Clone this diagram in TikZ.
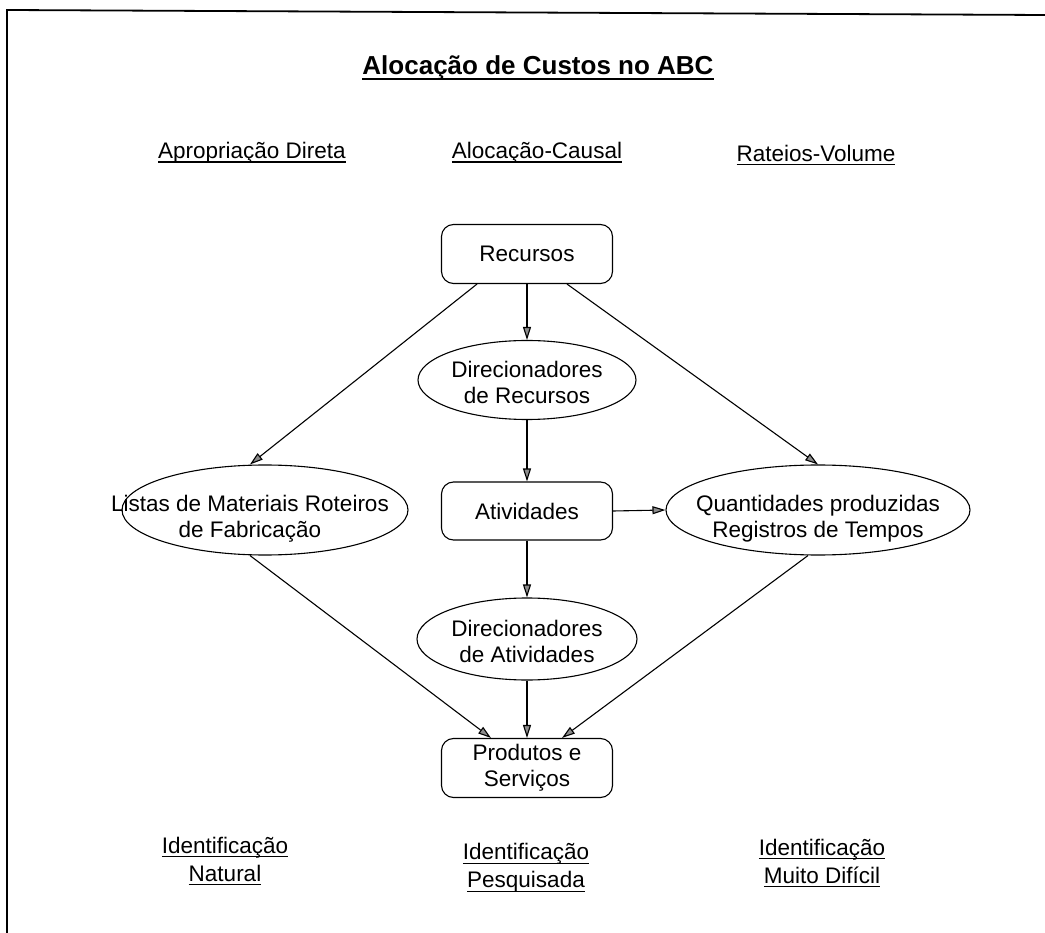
\documentclass[tikz,border=0pt]{standalone}
\usepackage{fontspec}
\setmainfont{Liberation Sans}
\usetikzlibrary{arrows.meta,calc,shapes.geometric}

% underline at a fixed depth below the baseline: {depth}{thickness}{text}
\newcommand{\ulfix}[3]{\setbox0=\hbox{#3}\rlap{\copy0}\rule[-#1]{\wd0}{#2}}
\newcommand{\ulw}[1]{\ulfix{4pt}{1.3pt}{#1}}

\begin{document}
\begin{tikzpicture}[x=1pt,y=-1pt,
  every node/.style={font=\fontsize{22.5}{26}\selectfont, align=center},
  boxnode/.style={draw, line width=1.1pt, rounded corners=12pt,
    minimum width=171pt, inner sep=0pt},
  oval/.style={draw, ellipse, line width=1.1pt, inner sep=0pt},
  ovaltext/.style={inner sep=0pt},
  heading/.style={inner sep=0pt},
  link/.style={line width=1.1pt,
    -{Triangle[length=13pt,width=8pt,fill=black!45]}},
  frameline/.style={line width=1.8pt}
]
\useasboundingbox (0,0) rectangle (1045,933);

% outer frame (top and left edges)
\draw[frameline] (7,933) -- (7,10) -- (1045,15);

% title and column headings
\node[heading, font=\fontsize{26}{30}\selectfont\bfseries] (title) at (538,68)
  {\ulfix{5pt}{2pt}{Alocação de Custos no ABC}};
\node[heading] (hdir) at (252,153) {\ulw{Apropriação Direta}};
\node[heading] (hcau) at (537,153) {\ulw{Alocação-Causal}};
\node[heading] (hrat) at (816,155) {\ulw{Rateios-Volume}};

% boxes
\node[boxnode, minimum height=59pt] (rec) at (527,254) {Recursos};
\node[boxnode, minimum height=58pt] (ativ) at (527,511) {Atividades};
\node[boxnode, minimum height=59pt] (prod) at (527,768) {Produtos e\\Serviços};

% ellipses with their labels
\node[oval, minimum width=218pt, minimum height=79pt] (dirrec) at (527,380) {};
\node[ovaltext] (dirrecT) at ($(dirrec.center)+(0,2)$) {Direcionadores\\de Recursos};

\node[oval, minimum width=220pt, minimum height=82pt] (diratv) at (527,639) {};
\node[ovaltext] (diratvT) at ($(diratv.center)+(0,2)$) {Direcionadores\\de Atividades};

\node[oval, minimum width=286pt, minimum height=90pt] (listas) at (265,510) {};
\node[ovaltext] (listasT) at (250,519) {Listas de Materiais Roteiros\\de Fabricação};

\node[oval, minimum width=304pt, minimum height=90pt] (qtd) at (818,510) {};
\node[ovaltext] (qtdT) at ($(qtd.center)+(0,9)$) {Quantidades produzidas\\Registros de Tempos};

% end points on the top and bottom of the left ellipse, in line with its text
\coordinate (listasTop) at (listasT.north |- listas.north);
\coordinate (listasBot) at (listasT.south |- listas.south);

% connectors
\draw[link] (rec.south) -- (dirrec.north);
\draw[link] ($(rec.south)+(-50,0)$) -- (listasTop);
\draw[link] ($(rec.south)+(40,0)$) -- (qtd.north);
\draw[link] (dirrec.south) -- (ativ.north);
\draw[link] (ativ.east) -- (qtd.west);
\draw[link] (ativ.south) -- (diratv.north);
\draw[link] (diratv.south) -- (prod.north);
\draw[link] (listasBot) -- ($(prod.north)+(-36,0)$);
\draw[link] ($(qtd.south)+(-10,0)$) -- ($(prod.north)+(35,0)$);

% bottom labels
\node[heading] (inat) at (225,861) {\ulw{Identificação}\\[2pt]\ulw{Natural}};
\node[heading] (ipes) at (526,868) {\ulw{Identificação}\\[2pt]\ulw{Pesquisada}};
\node[heading] (idif) at (822,863) {\ulw{Identificação}\\[2pt]\ulw{Muito Difícil}};
\end{tikzpicture}
\end{document}
